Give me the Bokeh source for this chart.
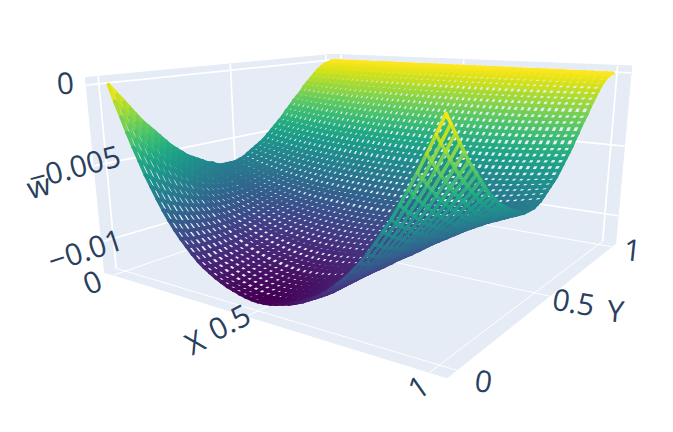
import numpy as np
from bokeh.plotting import figure
from bokeh.models import ColumnDataSource
from bokeh.core.properties import value
from bokeh.embed import file_html
from bokeh.resources import INLINE
from bokeh.palettes import Viridis256

# ---- data ----
x_grid = [i / 50 for i in range(51)]
y_grid = [i / 50 for i in range(51)]
# deflection along the y lines at x = 0 (and x = 1)
edge_w = [0, -.0005, -.0010, -.0015, -.0020, -.0025, -.0029, -.0033, -.0037, -.0041, -.0045,
          -.0048, -.0051, -.0054, -.0056, -.0058, -.0060, -.0062, -.0063, -.0065, -.0066,
          -.0066, -.0066, -.0066, -.0065, -.0064, -.0062, -.0060, -.0058, -.0056, -.0054,
          -.0051, -.0048, -.0045, -.0042, -.0039, -.0035, -.0032, -.0028, -.0025, -.0022,
          -.0018, -.0015, -.0012, -.0009, -.0006, -.0004, -.0002, -.0001, 0, 0]
# deflection along the y lines at x = 0.5
mid_w = [-.0115, -.0115, -.0115, -.0114, -.0113, -.0112, -.0111, -.0110, -.0109, -.0107, -.0106,
         -.0105, -.0103, -.0101, -.0100, -.0098, -.0096, -.0094, -.0092, -.0090, -.0088,
         -.0086, -.0084, -.0081, -.0079, -.0077, -.0074, -.0071, -.0068, -.0065, -.0062,
         -.0059, -.0055, -.0052, -.0048, -.0045, -.0041, -.0037, -.0033, -.0029, -.0025,
         -.0021, -.0017, -.0014, -.0010, -.0007, -.0004, -.0002, -.0001, 0, 0]
# share of the sag reached across x
sag_x = [0, .085, .165, .245, .32, .39, .46, .52, .58, .635, .685, .73, .77, .805, .84, .87,
         .895, .915, .935, .95, .965, .975, .985, .993, .998, 1,
         .998, .993, .985, .975, .965, .95, .935, .915, .895, .87, .84, .805, .77, .73, .685,
         .635, .58, .52, .46, .39, .32, .245, .165, .085, 0]
x_ticks = [0, 0.5, 1]
y_ticks = [0, 0.5, 1]
w_ticks = [0, -0.005, -0.01]
x_range3 = (-0.04, 1.04)
y_range3 = (-0.04, 1.04)
w_range3 = (-0.01206, 0.00046)

# ---- camera: where known scene points land in the window ----
xl, xh = x_range3; yl, yh = y_range3; zl, zh = w_range3
CAMERA = [
    ((xl, yl, zh), (86, 75)), ((xl, yh, zh), (333, 55)), ((xh, yh, zh), (629, 67)),
    ((xl, yl, zl), (104, 272)), ((xh, yl, zl), (447, 377)), ((xh, yh, zl), (615, 243)),
    ((0, 0, 0), (107, 85)), ((1, 0, 0), (445, 115)), ((0, 1, 0), (333, 60)), ((1, 1, 0), (615, 70)),
]
rows = []
for (X, Y, Z), (u, v) in CAMERA:
    v = 432 - v
    Pw = [X, Y, Z * 100, 1]
    rows.append(Pw + [0, 0, 0, 0] + [-u * c for c in Pw])
    rows.append([0, 0, 0, 0] + Pw + [-v * c for c in Pw])
_, _, vt = np.linalg.svd(np.array(rows, float))
P = vt[-1].reshape(3, 4)
if P[2, 3] < 0:
    P = -P


def project(X, Y, Z):
    X, Y, Z = np.asarray(X, float), np.asarray(Y, float), np.asarray(Z, float)
    H = np.stack([X, Y, Z * 100, np.ones_like(X)])
    q = np.tensordot(P, H, axes=1)
    return q[0] / q[2], q[1] / q[2], q[2]


p = figure(width=657, height=416, x_range=(0, 657), y_range=(16, 432), output_backend="svg",
           toolbar_location=None, min_border=0, outline_line_color=None,
           background_fill_color="white", border_fill_color="white")
p.axis.visible = False
p.grid.visible = False

# walls
WALL = "#E5ECF6"
walls = [
    [(xl, yl, zl), (xl, yh, zl), (xl, yh, zh), (xl, yl, zh)],
    [(xl, yh, zl), (xh, yh, zl), (xh, yh, zh), (xl, yh, zh)],
    [(xl, yl, zl), (xh, yl, zl), (xh, yh, zl), (xl, yh, zl)],
]
wx, wy = [], []
for w in walls:
    a = np.array(w)
    u, v, _ = project(a[:, 0], a[:, 1], a[:, 2])
    wx.append(list(u)); wy.append(list(v))
p.patches(wx, wy, fill_color=WALL, line_color=WALL, line_width=1)


def gridline(a, b, width):
    u, v, _ = project([a[0], b[0]], [a[1], b[1]], [a[2], b[2]])
    p.line(list(u), list(v), line_color="white", line_width=width)


for t in x_ticks:
    gridline((t, yl, zl), (t, yh, zl), 1)
    gridline((t, yh, zl), (t, yh, zh), 1.7)
for t in y_ticks:
    gridline((xl, t, zl), (xh, t, zl), 1)
    gridline((xl, t, zl), (xl, t, zh), 1.7)
for t in w_ticks:
    gridline((xl, yl, t), (xl, yh, t), 1.7)
    gridline((xl, yh, t), (xh, yh, t), 1.7)

# surface wireframe
xg = np.array(x_grid); yg = np.array(y_grid)
edge = np.array(edge_w); mid = np.array(mid_w); sag = np.array(sag_x)
W = edge[None, :] + (mid - edge)[None, :] * sag[:, None]   # W[ix, iy]
XX, YY = np.meshgrid(xg, yg, indexing="ij")
U, V, D = project(XX, YY, W)
wmin, wmax = W.min(), W.max()
idx = ((W - wmin) / (wmax - wmin) * 255).round().astype(int)

x0, y0, x1, y1, col, dep = [], [], [], [], [], []
nx, ny = W.shape
for i in range(nx):
    for j in range(ny):
        for di, dj in ((1, 0), (0, 1)):
            a, b = i + di, j + dj
            if a < nx and b < ny:
                x0.append(U[i, j]); y0.append(V[i, j]); x1.append(U[a, b]); y1.append(V[a, b])
                col.append(Viridis256[int((idx[i, j] + idx[a, b]) / 2)])
                dep.append((D[i, j] + D[a, b]) / 2)
order = np.argsort(dep)[::-1]
src = ColumnDataSource(dict(
    x0=[x0[k] for k in order], y0=[y0[k] for k in order],
    x1=[x1[k] for k in order], y1=[y1[k] for k in order], c=[col[k] for k in order]))
p.segment("x0", "y0", "x1", "y1", source=src, line_color="c", line_width=3.6, line_cap="round")

# labels (window pixel centres, angle in degrees)
TXT = "#2a3f5f"
LABELS = [
    ("0", 92, 282, 22), ("0.5", 229, 322, 27), ("X", 194, 341, 27), ("1", 418, 387, 35),
    ("0", 483, 381, -8), ("0.5", 573, 302, -10), ("Y", 615, 310, -5), ("1", 632, 250, -6),
    ("0", 65, 83, 5), ("\u22120.005", 74, 167, 15), ("w", 38, 185, 15), ("\u22120.01", 85, 250, 18),
]
for s, px, py, ang in LABELS:
    p.text([px], [432 - py], text=[s], angle=np.radians(ang), text_color=TXT,
           text_font=value("Open Sans"), text_font_size="30px", text_align="center",
           text_baseline="middle")

open("out.html", "w").write(file_html(p, INLINE))
